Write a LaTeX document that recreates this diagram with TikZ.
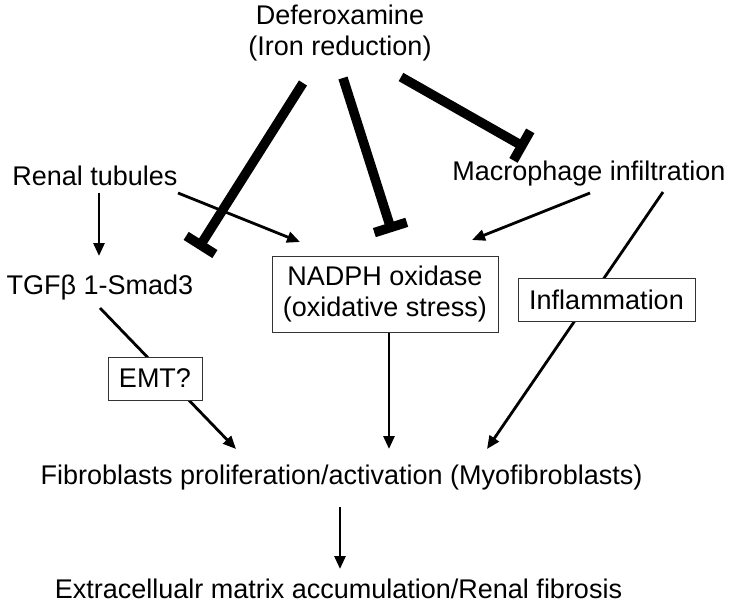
\documentclass[tikz,border=0pt]{standalone}
\usepackage{fontspec}
\setmainfont{Liberation Sans}
\usetikzlibrary{arrows.meta,backgrounds}
\begin{document}
\begin{tikzpicture}[x=1pt,y=-1pt,
  lbl/.style={font=\fontsize{27}{31}\selectfont, inner sep=0pt, align=center},
  boxed/.style={lbl, draw=black!80, line width=1pt, fill=white, inner sep=0pt},
  arr/.style={line width=2.8pt, -{Triangle[length=13pt,width=11pt]}},
  inh/.style={line width=9.5pt, -{Bar[width=34pt]}}
]
\useasboundingbox (0,0) rectangle (733,604);
% nodes
\node[lbl] (def) at (340,33) {Deferoxamine\\(Iron reduction)};
\node[lbl] (rt) at (95,176) {Renal tubules};
\node[lbl] (mac) at (589,174) {Macrophage infiltration};
\node[lbl] (tgf) at (100,288) {TGFβ 1-Smad3};
\node[boxed, minimum width=226pt, minimum height=76pt] (nox) at (385,294) {NADPH oxidase\\(oxidative stress)};
\node[boxed, minimum width=177pt, minimum height=43pt] (inf) at (606.5,299.5) {Inflammation};
\node[boxed, minimum width=94pt, minimum height=43pt] (emt) at (155,378.5) {EMT?};
\node[lbl] (fib) at (341.5,478) {Fibroblasts proliferation/activation (Myofibroblasts)};
\node[lbl] (ecm) at (338.5,589) {Extracellualr matrix accumulation/Renal fibrosis};
% connector end points
\coordinate (d1) at (303,83);
\coordinate (d2) at (343,78);
\coordinate (d3) at (401,77);
\coordinate (tgfIn) at (198,249);
\coordinate (noxInh) at (392,232);
\coordinate (macInh) at (526,148);
\coordinate (rtA) at (99,193);
\coordinate (tgfTop) at (99,256);
\coordinate (rtB) at (178,193);
\coordinate (noxL) at (300,242);
\coordinate (macA) at (590,193);
\coordinate (noxR) at (472,240);
\coordinate (macB) at (663,192);
\coordinate (fibR) at (487,449);
\coordinate (tgfB) at (100,308);
\coordinate (fibL) at (236,449);
\coordinate (fibM) at (389,449);
\coordinate (fibB) at (340,507);
\coordinate (ecmT) at (340,569);
\begin{pgfonlayer}{background}
\draw[inh] (d1) -- (tgfIn);
\draw[inh] (d2) -- (noxInh);
\draw[inh] (d3) -- (macInh);
\draw[arr] (rtA) -- (tgfTop);
\draw[arr] (rtB) -- (noxL);
\draw[arr] (macA) -- (noxR);
\draw[arr] (macB) -- (fibR);
\draw[arr] (tgfB) -- (fibL);
\draw[arr] (nox.south -| fibM) -- (fibM);
\draw[arr] (fibB) -- (ecmT);
\end{pgfonlayer}
\end{tikzpicture}
\end{document}
